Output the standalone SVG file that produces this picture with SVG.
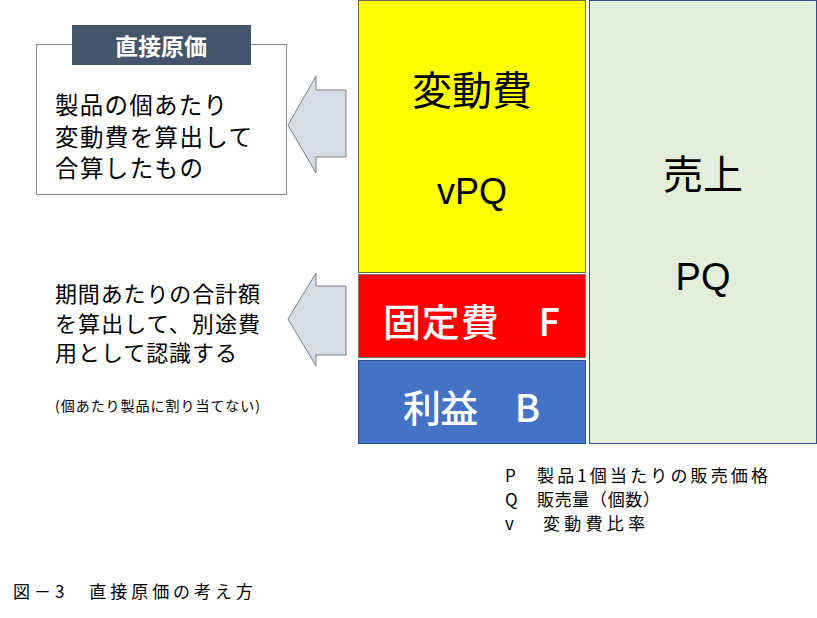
<svg xmlns="http://www.w3.org/2000/svg" width="817" height="618" viewBox="0 0 817 618">
<style>
text{font-family:"Liberation Sans","Noto Sans CJK JP",sans-serif;}
.jp{font-family:"Noto Sans CJK JP",sans-serif;}
.arrow{fill:#d6dce5;stroke:#7f7f7f;stroke-width:1;}
.big{font-size:40px;}
.body{font-size:23.5px;fill:#000;}
.body2{font-size:22px;fill:#000;}
.leg{font-size:17px;fill:#000;}
</style>
<rect width="817" height="618" fill="#fff"/>
<g id="variable-cost">
<rect x="358.5" y="0.5" width="227" height="272" fill="#ffff00" stroke="#6d6d3a" stroke-width="1"/>
<text class="jp big" x="472" y="105" text-anchor="middle">変動費</text>
<text x="472" y="204" font-size="36" text-anchor="middle">vPQ</text>
</g>
<g id="fixed-cost">
<rect x="358.5" y="274.5" width="227" height="83" fill="#ff0000" stroke="#8a6d6d" stroke-width="1"/>
<text class="jp" x="383" y="336" font-size="38" font-weight="500" fill="#fff" textLength="177">固定費　F</text>
</g>
<g id="profit">
<rect x="358.5" y="360.5" width="227" height="83" fill="#4472c4" stroke="#2f528f" stroke-width="1"/>
<text class="jp" x="403" y="422" font-size="38" font-weight="500" fill="#fff" textLength="137">利益　B</text>
</g>
<g id="sales">
<rect x="589.5" y="0.5" width="227" height="443" fill="#e2efda" stroke="#2f528f" stroke-width="1"/>
<text class="jp big" x="703" y="189" text-anchor="middle">売上</text>
<text x="703" y="290" font-size="38" text-anchor="middle">PQ</text>
</g>
<g id="direct-cost-box">
<rect x="36.5" y="44.5" width="250" height="150" fill="#fff" stroke="#8c8c8c" stroke-width="1"/>
<rect x="72" y="25" width="179" height="40" fill="#44546a"/>
<text class="jp" x="161" y="55" font-size="23" font-weight="bold" fill="#fff" text-anchor="middle">直接原価</text>
<text class="jp body" x="55" y="114" textLength="172">製品の個あたり</text>
<text class="jp body" x="55" y="146" textLength="197">変動費を算出して</text>
<text class="jp body" x="55" y="177" textLength="148">合算したもの</text>
</g>
<g id="fixed-cost-note">
<text class="jp body2" x="55" y="302" textLength="205">期間あたりの合計額</text>
<text class="jp body2" x="55" y="332" textLength="205">を算出して、別途費</text>
<text class="jp body2" x="55" y="361" textLength="182">用として認識する</text>
<text class="jp" x="55" y="411" font-size="14" textLength="205">(個あたり製品に割り当てない)</text>
</g>
<g id="connectors">
<polygon class="arrow" points="288,125 316,76 316,90 346,90 346,157 316,157 316,173"/>
<polygon class="arrow" points="288,319 316,273 316,286 346,286 346,355 316,355 316,366"/>
</g>
<g id="legend">
<text class="jp leg" x="505" y="482">P</text>
<text class="jp leg" x="537" y="482" textLength="231">製品1個当たりの販売価格</text>
<text class="jp leg" x="505" y="506">Q</text>
<text class="jp leg" x="537" y="506" textLength="123">販売量（個数）</text>
<text class="jp leg" x="505" y="530">v</text>
<text class="jp leg" x="543" y="530" textLength="102">変動費比率</text>
</g>
<g id="caption">
<text class="jp" x="13" y="598" font-size="17" textLength="240">図－3　直接原価の考え方</text>
</g>
</svg>
